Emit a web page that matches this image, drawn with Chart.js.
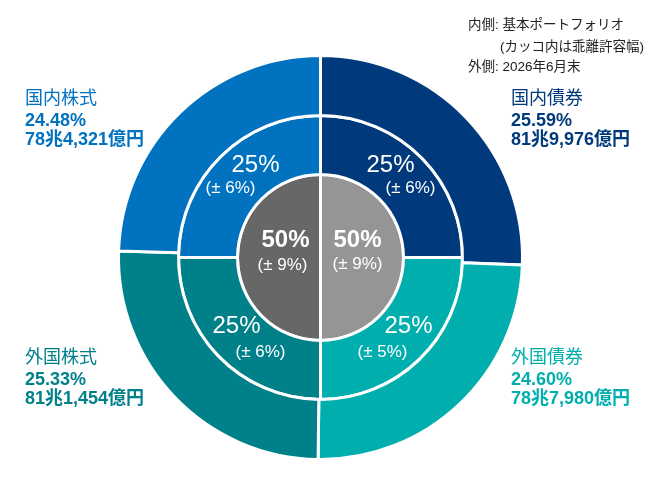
<!DOCTYPE html>
<html>
<head>
<meta charset="utf-8">
<script src="https://cdn.jsdelivr.net/npm/chart.js@4"></script>
<style>
  html, body { margin: 0; padding: 0; background: #fff; }
  #wrap { width: 670px; height: 480px; position: relative; }
</style>
</head>
<body>
<div id="wrap"><canvas id="pie" width="670" height="480"></canvas></div>
<script>
// outer ring: actual allocation (clockwise from top)
const assetNames = ['国内債券', '外国債券', '外国株式', '国内株式'];
const actualPct = [25.59, 24.60, 25.33, 24.48];
const actualAmount = ['81兆9,976億円', '78兆7,980億円', '81兆1,454億円', '78兆4,321億円'];
// middle ring: base portfolio
const basePct = [25, 25, 25, 25];
const baseRange = ['(± 6%)', '(± 5%)', '(± 6%)', '(± 6%)'];
// inner circle: bonds / stocks
const innerPct = [50, 50];
const innerRange = ['(± 9%)', '(± 9%)'];

const colors = ['#003A7D', '#00AEAE', '#00818A', '#0072C0'];
const innerColors = ['#959595', '#676767'];
const FONT = '"Liberation Sans", "Noto Sans CJK JP", sans-serif';

const labelPlugin = {
  id: 'labels',
  afterDatasetsDraw(chart) {
    const ctx = chart.ctx;
    const mid = chart.getDatasetMeta(1).data;
    const inn = chart.getDatasetMeta(2).data;
    const cx = mid[0].x, cy = mid[0].y;
    ctx.save();
    ctx.fillStyle = '#fff';
    ctx.textAlign = 'center';
    ctx.textBaseline = 'middle';
    // offsets from centre for each base label pair
    const midOff = [[70, -92, 90, -69], [88, 69, 62, 95], [-84, 69, -60, 95], [-65, -92, -90, -69]];
    mid.forEach((a, i) => {
      const o = midOff[i];
      ctx.font = '24px ' + FONT;
      ctx.fillText(basePct[i] + '%', cx + o[0], cy + o[1]);
      ctx.font = '17px ' + FONT;
      ctx.fillText(baseRange[i], cx + o[2], cy + o[3]);
    });
    const innOff = [[37, -17, 37, 7], [-35, -17, -38, 8]];
    inn.forEach((a, i) => {
      const o = innOff[i];
      ctx.font = 'bold 24px ' + FONT;
      ctx.fillText(innerPct[i] + '%', cx + o[0], cy + o[1]);
      ctx.font = '17px ' + FONT;
      ctx.fillText(innerRange[i], cx + o[2], cy + o[3]);
    });

    // outer labels
    ctx.textAlign = 'left';
    const outPos = [[511, -158], [511, 101], [25, 101], [25, -158]];
    assetNames.forEach((name, i) => {
      const x = outPos[i][0], y = cy + outPos[i][1];
      ctx.fillStyle = colors[i];
      ctx.font = '18px ' + FONT;
      ctx.fillText(name, x, y);
      ctx.font = 'bold 18px ' + FONT;
      ctx.fillText(actualPct[i].toFixed(2) + '%', x, y + 22);
      ctx.fillText(actualAmount[i], x, y + 41);
    });

    // note in the corner
    ctx.fillStyle = '#222';
    ctx.font = '13.5px ' + FONT;
    ctx.fillText('内側: 基本ポートフォリオ', 468, 25);
    ctx.fillText('(カッコ内は乖離許容幅)', 500, 47);
    ctx.fillText('外側: 2026年6月末', 468, 67);
    ctx.restore();
  }
};

new Chart(document.getElementById('pie').getContext('2d'), {
  type: 'doughnut',
  data: {
    labels: assetNames,
    datasets: [
      { data: actualPct, backgroundColor: colors, borderColor: '#fff', borderWidth: 3, weight: 60 },
      { data: basePct, backgroundColor: colors, borderColor: '#fff', borderWidth: 3, weight: 59 },
      { data: innerPct, backgroundColor: innerColors, borderColor: '#fff', borderWidth: 3, weight: 83 },
    ],
  },
  options: {
    responsive: false,
    animation: false,
    events: [],
    cutout: 0,
    layout: { padding: { left: 117, right: 146, top: 54, bottom: 19 } },
    plugins: { legend: { display: false }, tooltip: { enabled: false } },
  },
  plugins: [labelPlugin],
});
</script>
</body>
</html>
